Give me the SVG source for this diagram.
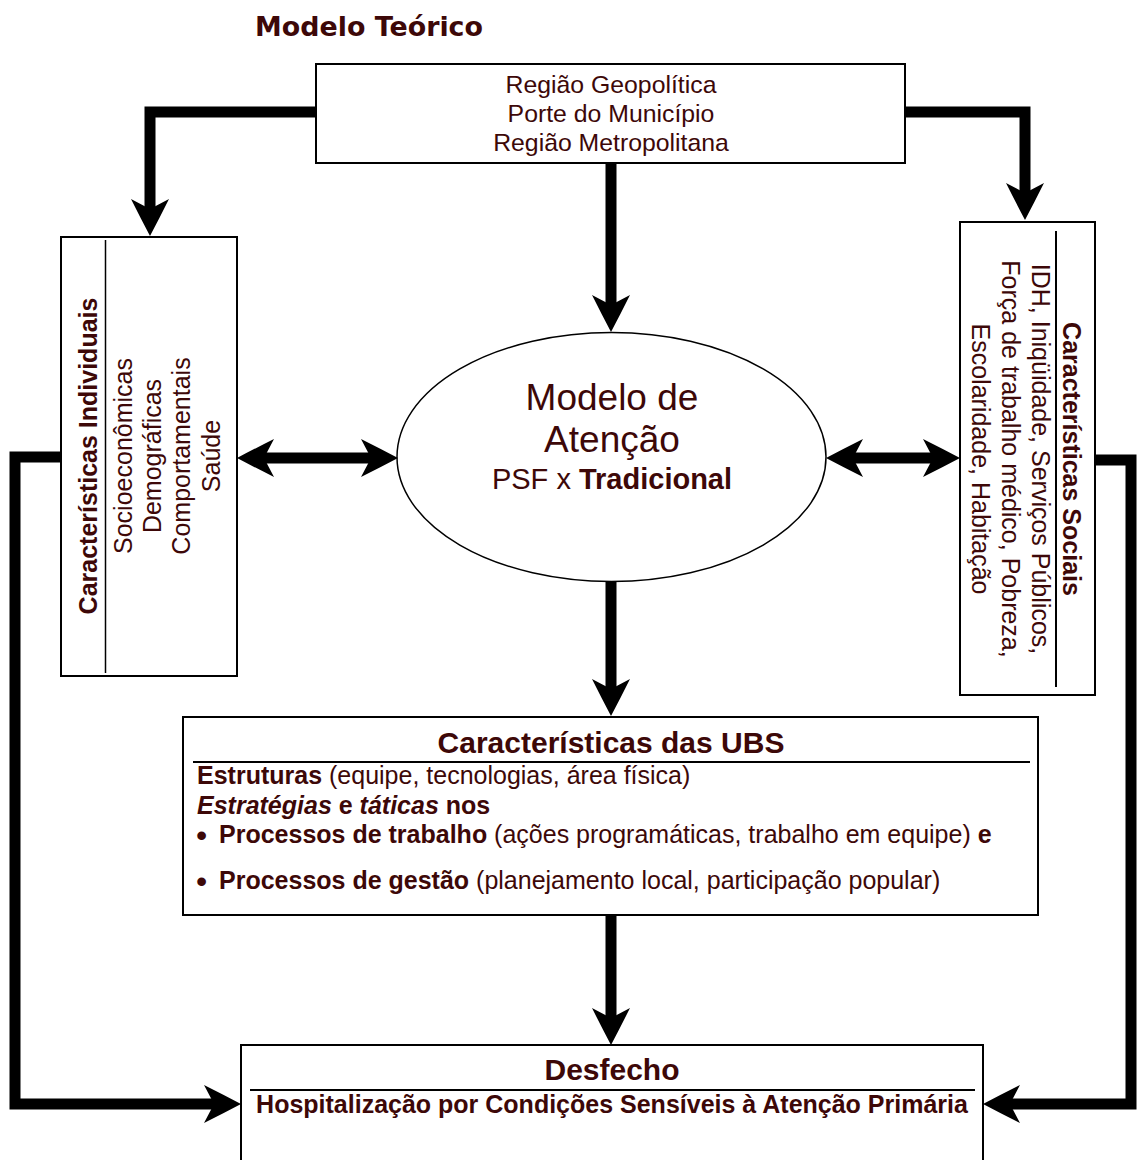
<svg xmlns="http://www.w3.org/2000/svg" width="1137" height="1160" viewBox="0 0 1137 1160">
<defs>
<style>
.box{fill:#fff;stroke:#000;stroke-width:2}
.sep{stroke:#000;stroke-width:2}
.t{font-family:"Liberation Sans",Arial,sans-serif;fill:#3d0808}
.b{font-weight:bold}
.c{text-anchor:middle}
.conn{fill:none;stroke:#000;stroke-width:11;stroke-linejoin:miter}
</style>
<marker id="ah" markerUnits="userSpaceOnUse" viewBox="0 0 38 38" markerWidth="38" markerHeight="38" refX="10" refY="19" orient="auto-start-reverse">
<path d="M0,0 Q20,10 37,19 Q20,28 0,38 L10,19 Z" fill="#000"/>
</marker>
</defs>
<rect width="1137" height="1160" fill="#fff"/>
<text x="369" y="36" class="c" font-family="'DejaVu Sans',Verdana,sans-serif" font-weight="bold" font-size="26" fill="#3d0808" textLength="228" lengthAdjust="spacingAndGlyphs">Modelo Teórico</text>

<g id="node-regiao">
<rect class="box" x="316" y="64" width="589" height="99"/>
<text class="t c" font-size="24.8" x="611"><tspan x="611" y="93">Região Geopolítica</tspan><tspan x="611" y="122">Porte do Município</tspan><tspan x="611" y="151">Região Metropolitana</tspan></text>
</g>

<g id="node-individuais">
<rect class="box" x="61" y="237" width="176" height="439"/>
<line x1="105.5" y1="240" x2="105.5" y2="673" stroke="#000" stroke-width="1.5"/>
<g transform="translate(0,456) rotate(-90)">
<text class="t b c" font-size="25" x="0" y="97">Características Individuais</text>
<text class="t c" font-size="25" x="0" y="132">Socioeconômicas</text>
<text class="t c" font-size="25" x="0" y="161">Demográficas</text>
<text class="t c" font-size="25" x="0" y="190">Comportamentais</text>
<text class="t c" font-size="25" x="0" y="220">Saúde</text>
</g>
</g>

<g id="node-sociais">
<rect class="box" x="960" y="222" width="135" height="473"/>
<line x1="1056" y1="231" x2="1056" y2="687" stroke="#000" stroke-width="2"/>
<g transform="translate(0,459) rotate(90)">
<text class="t b c" font-size="25" x="0" y="-1063">Características Sociais</text>
<text class="t c" font-size="25" x="0" y="-1032">IDH, Iniqüidade, Serviços Públicos,</text>
<text class="t c" font-size="25" x="0" y="-1002">Força de trabalho médico, Pobreza,</text>
<text class="t c" font-size="25" x="0" y="-972">Escolaridade, Habitação</text>
</g>
</g>

<g id="node-modelo">
<ellipse cx="611.5" cy="457" rx="214.5" ry="124.5" fill="#fff" stroke="#000" stroke-width="1.5"/>
<text class="t c" font-size="37" x="612" y="410">Modelo de</text>
<text class="t c" font-size="37" x="612" y="452">Atenção</text>
<text class="t c" font-size="29" x="612" y="489">PSF x <tspan class="b">Tradicional</tspan></text>
</g>

<g id="node-ubs">
<rect class="box" x="183" y="717" width="855" height="198"/>
<text class="t b c" font-size="30" x="611" y="753">Características das UBS</text>
<line class="sep" x1="193" y1="762" x2="1030" y2="762"/>
<text class="t" font-size="25" x="197" y="784"><tspan class="b">Estruturas</tspan> (equipe, tecnologias, área física)</text>
<text class="t b" font-size="25" x="197" y="814"><tspan font-style="italic">Estratégias</tspan> e <tspan font-style="italic">táticas</tspan> nos</text>
<text class="t" font-size="32" x="196" y="846">•</text>
<text class="t" font-size="25" x="219" y="843"><tspan class="b">Processos de trabalho</tspan> (ações programáticas, trabalho em equipe) <tspan class="b">e</tspan></text>
<text class="t" font-size="32" x="196" y="892">•</text>
<text class="t" font-size="25" x="219" y="889"><tspan class="b">Processos de gestão</tspan> (planejamento local, participação popular)</text>
</g>

<g id="node-desfecho">
<rect class="box" x="241" y="1045" width="742" height="130"/>
<text class="t b c" font-size="30" x="612" y="1080">Desfecho</text>
<line class="sep" x1="250" y1="1090" x2="975" y2="1090"/>
<text class="t b c" font-size="25" x="612" y="1113">Hospitalização por Condições Sensíveis à Atenção Primária</text>
</g>

<g id="connectors">
<path class="conn" d="M316,112 H150 V209" marker-end="url(#ah)"/>
<path class="conn" d="M905,112 H1025 V193" marker-end="url(#ah)"/>
<path class="conn" d="M611,163 V305" marker-end="url(#ah)"/>
<path class="conn" d="M264,458 H371" marker-start="url(#ah)" marker-end="url(#ah)"/>
<path class="conn" d="M853,458 H933" marker-start="url(#ah)" marker-end="url(#ah)"/>
<path class="conn" d="M611,582 V689" marker-end="url(#ah)"/>
<path class="conn" d="M611,915 V1018" marker-end="url(#ah)"/>
<path class="conn" d="M61,457 H15 V1104 H214" marker-end="url(#ah)"/>
<path class="conn" d="M1095,460 H1131 V1104 H1010" marker-end="url(#ah)"/>
</g>
</svg>
